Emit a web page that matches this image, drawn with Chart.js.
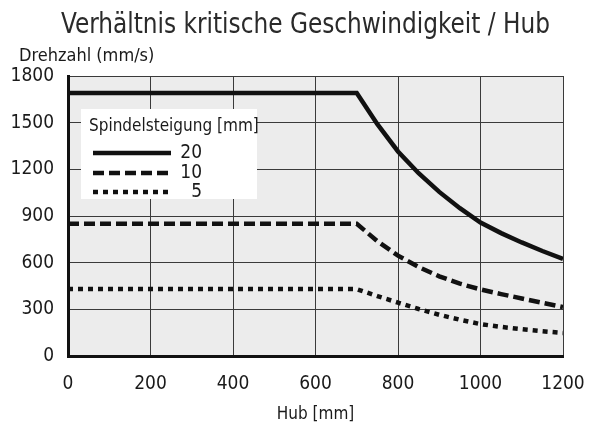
<!DOCTYPE html>
<html lang="de">
<head>
    <meta charset="UTF-8">
    <title>Verhältnis kritische Geschwindigkeit / Hub</title>
    <script src="https://cdn.jsdelivr.net/npm/chart.js"></script>
    <style>
        body { margin: 0; background: #fff; }
        #chart { display: block; }
    </style>
</head>
<body>
    <canvas id="chart" width="591" height="425"></canvas>

    <script>
        const FONT = '"Liberation Sans Narrow", "DejaVu Sans Condensed", "Arial Narrow", sans-serif';

        // Hub [mm]
        const hubValues = [0, 700, 750, 800, 850, 900, 950, 1000, 1050, 1100, 1150, 1200];
        // Drehzahl (mm/s) je Spindelsteigung
        const speed20 = [1690, 1690, 1490, 1315, 1175, 1055, 950, 858, 790, 730, 675, 624];
        const speed10 = [850, 850, 738, 645, 572, 512, 465, 428, 398, 370, 342, 315];
        const speed5 = [430, 430, 385, 343, 302, 265, 233, 205, 187, 172, 159, 148];
        const seriesLabels = ['20', '10', '5'];

        const xTicks = [0, 200, 400, 600, 800, 1000, 1200];
        const yTicks = [0, 300, 600, 900, 1200, 1500, 1800];

        function toPoints(values) {
            return hubValues.map((x, i) => ({ x: x, y: values[i] }));
        }

        // grauer Hintergrund im Diagrammbereich
        const plotBackground = {
            id: 'plotBackground',
            beforeDraw(chart) {
                const { ctx, chartArea: a } = chart;
                ctx.save();
                ctx.fillStyle = '#ececec';
                ctx.fillRect(a.left, a.top, a.right - a.left, a.bottom - a.top);
                ctx.restore();
            }
        };

        // Titel, Achsbeschriftung oben und Legende im Diagramm
        const textsAndLegend = {
            id: 'textsAndLegend',
            afterDraw(chart) {
                const { ctx } = chart;
                ctx.save();
                ctx.textBaseline = 'alphabetic';
                ctx.textAlign = 'left';

                // Titel (schmal gezogen wie im Original)
                const title = 'Verhältnis kritische Geschwindigkeit / Hub';
                ctx.fillStyle = '#2a2a2a';
                ctx.font = '28px ' + FONT;
                const w = ctx.measureText(title).width;
                ctx.save();
                ctx.translate(61, 33);
                ctx.scale(489 / w, 1);
                ctx.fillText(title, 0, 0);
                ctx.restore();

                ctx.fillStyle = '#1a1a1a';
                ctx.font = '18px ' + FONT;
                ctx.fillText('Drehzahl (mm/s)', 19, 61);

                // Legende
                ctx.fillStyle = '#fff';
                ctx.fillRect(81, 109, 176, 90);
                ctx.fillStyle = '#1a1a1a';
                ctx.font = '17px ' + FONT;
                ctx.textBaseline = 'middle';
                ctx.fillText('Spindelsteigung [mm]', 89, 127);

                const rows = [153, 173, 192];
                chart.data.datasets.forEach((ds, i) => {
                    ctx.strokeStyle = ds.borderColor;
                    ctx.lineWidth = ds.borderWidth;
                    ctx.setLineDash(ds.borderDash || []);
                    ctx.beginPath();
                    ctx.moveTo(93, rows[i]);
                    ctx.lineTo(171, rows[i]);
                    ctx.stroke();
                    ctx.setLineDash([]);
                    ctx.textAlign = 'right';
                    ctx.font = '19px ' + FONT;
                    ctx.fillText(seriesLabels[i], 202, rows[i]);
                });
                ctx.restore();
            }
        };

        const ctx = document.getElementById('chart').getContext('2d');

        new Chart(ctx, {
            type: 'scatter',
            data: {
                datasets: [{
                    label: seriesLabels[0],
                    data: toPoints(speed20),
                    showLine: true,
                    borderColor: '#111',
                    borderWidth: 4.5,
                    pointRadius: 0
                }, {
                    label: seriesLabels[1],
                    data: toPoints(speed10),
                    showLine: true,
                    borderColor: '#111',
                    borderWidth: 4.5,
                    borderDash: [11, 5],
                    pointRadius: 0
                }, {
                    label: seriesLabels[2],
                    data: toPoints(speed5),
                    showLine: true,
                    borderColor: '#111',
                    borderWidth: 4.5,
                    borderDash: [5, 5],
                    pointRadius: 0
                }]
            },
            options: {
                responsive: false,
                animation: false,
                layout: { padding: { top: 76, right: 28, left: 0, bottom: 0 } },
                plugins: {
                    legend: { display: false },
                    tooltip: { enabled: false }
                },
                scales: {
                    x: {
                        type: 'linear',
                        min: 0,
                        max: 1200,
                        afterBuildTicks: (scale) => { scale.ticks = xTicks.map(v => ({ value: v })); },
                        afterFit: (scale) => {
                            scale.height = 69;
                            scale.paddingLeft = 0;
                            scale.paddingRight = 0;
                        },
                        grid: { color: '#3a3a3a', lineWidth: 1, drawTicks: false },
                        border: { color: '#111', width: 3 },
                        ticks: {
                            color: '#1a1a1a',
                            padding: 17,
                            maxRotation: 0,
                            autoSkip: false,
                            font: { family: FONT, size: 19 },
                            callback: (v) => String(v)
                        },
                        title: {
                            display: true,
                            text: 'Hub [mm]',
                            color: '#1a1a1a',
                            font: { family: FONT, size: 17 },
                            padding: { top: 2, bottom: 0 }
                        }
                    },
                    y: {
                        type: 'linear',
                        min: 0,
                        max: 1800,
                        afterBuildTicks: (scale) => { scale.ticks = yTicks.map(v => ({ value: v })); },
                        afterFit: (scale) => {
                            scale.width = 68;
                            scale.paddingTop = 0;
                            scale.paddingBottom = 0;
                        },
                        grid: { color: '#3a3a3a', lineWidth: 1, drawTicks: false },
                        border: { color: '#111', width: 3 },
                        ticks: {
                            color: '#1a1a1a',
                            padding: 14,
                            font: { family: FONT, size: 19 },
                            callback: (v) => String(v)
                        }
                    }
                }
            },
            plugins: [plotBackground, textsAndLegend]
        });
    </script>
</body>
</html>
